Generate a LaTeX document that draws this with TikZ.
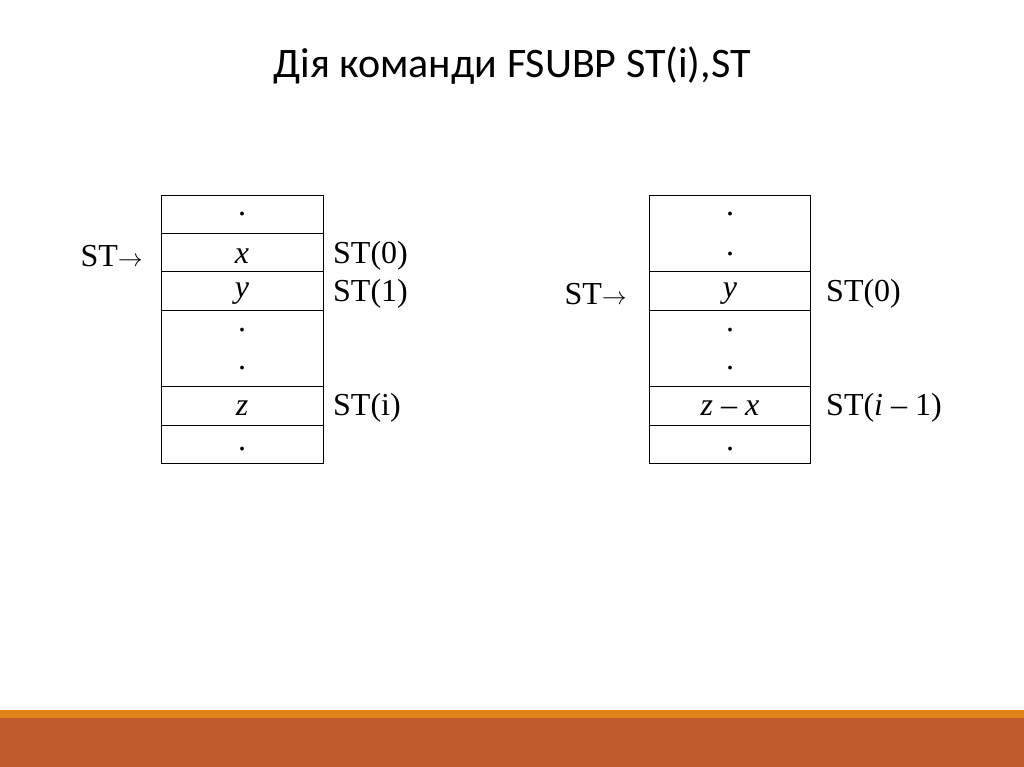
\documentclass[tikz,border=0pt]{standalone}
\usepackage{fontspec}
\setmainfont{Liberation Serif}
\newfontfamily\titlefont{Carlito}
\definecolor{barorange}{HTML}{E08418}
\definecolor{barbrown}{HTML}{BF5A2D}
\begin{document}
\begin{tikzpicture}[x=1pt,y=-1pt,
  cell/.style={draw,line width=0.8pt},
  lbl/.style={font=\fontsize{32}{34}\selectfont,inner sep=0pt},
  dotc/.style={font=\fontsize{32}{34}\selectfont,inner sep=0pt,anchor=base}]
\useasboundingbox[fill=white] (0,0) rectangle (1024,767);
\fill[barorange] (0,710) rectangle (1024,718);
\fill[barbrown] (0,718) rectangle (1024,767);
\node[font=\titlefont\fontsize{42}{46}\selectfont] (title) at (512,66) {Дія команди FSUBP ST(i),ST};
% left stack
\draw[cell] (161,195) rectangle (323,463);
\foreach \yy in {233,271,310,386,425} \draw[cell] (161,\yy) -- (323,\yy);
\node[dotc] (l1) at (242,216) {.};
\node[lbl] (lx) at (242,256) {\textit{x}};
\node[lbl] (ly) at (242,294) {\textit{y}};
\node[dotc] (l4) at (242,331) {.};
\node[dotc] (l5) at (242,369) {.};
\node[lbl] (lz) at (242,408) {\textit{z}};
\node[dotc] (l7) at (242,450) {.};
\node[lbl,anchor=east] (lst) at (143,256) {ST$\rightarrow$};
\node[lbl,anchor=west] (ls0) at (333,256) {ST(0)};
\node[lbl,anchor=west] (ls1) at (333,294) {ST(1)};
\node[lbl,anchor=west] (lsi) at (333,408) {ST(i)};
% right stack
\draw[cell] (649,195) rectangle (810,463);
\foreach \yy in {271,310,386,425} \draw[cell] (649,\yy) -- (810,\yy);
\node[dotc] (r1) at (730,216) {.};
\node[dotc] (r2) at (730,255) {.};
\node[lbl] (ry) at (730,294) {\textit{y}};
\node[dotc] (r4) at (730,331) {.};
\node[dotc] (r5) at (730,369) {.};
\node[lbl] (rz) at (730,408) {\textit{z} – \textit{x}};
\node[dotc] (r7) at (730,450) {.};
\node[lbl,anchor=east] (rst) at (627,294) {ST$\rightarrow$};
\node[lbl,anchor=west] (rs0) at (826,294) {ST(0)};
\node[lbl,anchor=west] (rsi) at (826,408) {ST(\textit{i} – 1)};
\end{tikzpicture}
\end{document}
